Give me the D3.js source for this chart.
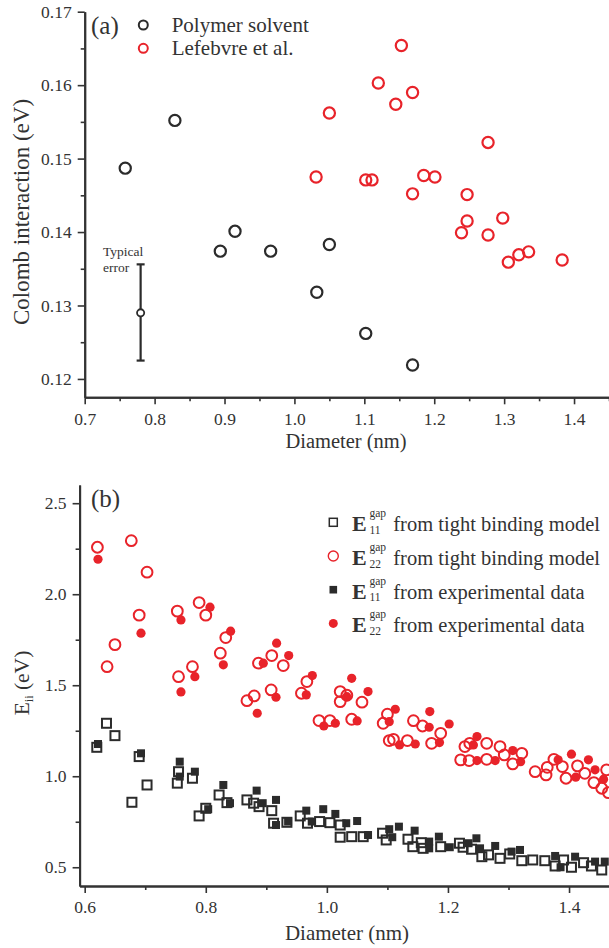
<!DOCTYPE html>
<html>
<head>
<meta charset="utf-8">
<script src="https://cdn.jsdelivr.net/npm/d3@7"></script>
<style>
body { margin: 0; background: #fff; }
text { font-family: "Liberation Serif", serif; fill: #333; }
</style>
</head>
<body>
<svg id="chart" width="609" height="948"></svg>
<script>
// (a) Coulomb interaction vs diameter
var polymerDiam = [0.758, 0.829, 0.894, 0.915, 0.966, 1.050, 1.032, 1.102, 1.169];
var polymerCoul = [0.1487, 0.1552, 0.1374, 0.1401, 0.1374, 0.1383, 0.1318, 0.1262, 0.1219];
var lefebvreDiam = [1.153, 1.120, 1.169, 1.145, 1.050, 1.277, 1.031, 1.102, 1.111, 1.185, 1.201,
                    1.169, 1.247, 1.247, 1.239, 1.298, 1.277, 1.306, 1.321, 1.335, 1.383];
var lefebvreCoul = [0.1654, 0.1603, 0.1590, 0.1574, 0.1562, 0.1522, 0.1475, 0.1471, 0.1471, 0.1477, 0.1475,
                    0.1452, 0.1451, 0.1415, 0.1399, 0.1419, 0.1396, 0.1359, 0.1369, 0.1373, 0.1362];
var errDiam = 0.78, errMid = 0.129, errLow = 0.1225, errHigh = 0.1356;

// (b) transition energies vs diameter
var e11tbDiam = [0.620, 0.636, 0.650, 0.678, 0.690, 0.703, 0.753, 0.755, 0.778, 0.789, 0.800, 0.822, 0.835,
                 0.868, 0.879, 0.888, 0.909, 0.912, 0.934, 0.956, 0.968, 0.988, 1.005, 1.022, 1.022, 1.041,
                 1.060, 1.092, 1.098, 1.134, 1.142, 1.156, 1.159, 1.188, 1.219, 1.225, 1.239, 1.256, 1.267,
                 1.286, 1.302, 1.322, 1.340, 1.360, 1.377, 1.391, 1.404, 1.424, 1.437, 1.454];
var e11tbGap = [1.159, 1.291, 1.223, 0.857, 1.108, 0.952, 0.962, 1.025, 0.989, 0.782, 0.824, 0.897, 0.855,
                0.870, 0.852, 0.833, 0.811, 0.742, 0.747, 0.782, 0.742, 0.751, 0.745, 0.732, 0.665, 0.668,
                0.668, 0.687, 0.650, 0.654, 0.613, 0.635, 0.604, 0.613, 0.632, 0.610, 0.599, 0.558, 0.568,
                0.549, 0.573, 0.536, 0.540, 0.536, 0.507, 0.540, 0.500, 0.525, 0.507, 0.485];
var e22tbDiam = [0.621, 0.677, 0.703, 0.690, 0.650, 0.637, 0.753, 0.789, 0.800, 0.833, 0.824, 0.887, 0.909,
                 0.928, 0.755, 0.778, 0.868, 0.880, 0.908, 0.958, 0.967, 0.987, 1.005, 1.022, 1.022, 1.033,
                 1.058, 1.041, 1.100, 1.093, 1.143, 1.158, 1.188, 1.103, 1.110, 1.133, 1.173, 1.228, 1.236,
                 1.264, 1.286, 1.322, 1.221, 1.235, 1.264, 1.293, 1.307, 1.344, 1.362, 1.364, 1.375, 1.389,
                 1.414, 1.395, 1.426, 1.441, 1.454, 1.465, 1.462];
var e22tbGap = [2.258, 2.294, 2.121, 1.885, 1.723, 1.602, 1.907, 1.954, 1.885, 1.762, 1.676, 1.621, 1.663,
                1.608, 1.547, 1.602, 1.415, 1.441, 1.474, 1.456, 1.520, 1.306, 1.306, 1.465, 1.410, 1.445,
                1.407, 1.313, 1.341, 1.291, 1.305, 1.276, 1.236, 1.196, 1.203, 1.196, 1.181, 1.163, 1.181,
                1.181, 1.163, 1.126, 1.090, 1.086, 1.093, 1.117, 1.068, 1.025, 1.007, 1.049, 1.093, 1.053,
                1.057, 0.989, 1.016, 0.965, 0.934, 0.910, 1.035];
var e11expDiam = [0.622, 0.693, 0.757, 0.757, 0.782, 0.804, 0.829, 0.840, 0.884, 0.894, 0.916, 0.916, 0.936,
                  0.966, 0.975, 0.994, 1.014, 1.032, 1.050, 1.068, 1.103, 1.108, 1.119, 1.145, 1.169, 1.169,
                  1.185, 1.203, 1.234, 1.247, 1.253, 1.278, 1.305, 1.319, 1.377, 1.386, 1.410, 1.443, 1.459];
var e11expGap = [1.177, 1.126, 1.080, 0.998, 1.025, 0.819, 0.952, 0.852, 0.921, 0.852, 0.870, 0.732, 0.751,
                 0.811, 0.751, 0.819, 0.793, 0.742, 0.754, 0.677, 0.709, 0.665, 0.723, 0.701, 0.641, 0.604,
                 0.668, 0.610, 0.632, 0.659, 0.604, 0.617, 0.586, 0.595, 0.562, 0.500, 0.558, 0.531, 0.531];
var e22expDiam = [0.622, 0.693, 0.759, 0.807, 0.841, 0.829, 0.895, 0.917, 0.937, 0.759, 0.782, 0.885, 0.916,
                  0.966, 0.976, 0.995, 1.014, 1.041, 1.033, 1.068, 1.050, 1.113, 1.103, 1.170, 1.169, 1.202,
                  1.120, 1.146, 1.186, 1.248, 1.242, 1.307, 1.248, 1.278, 1.320, 1.382, 1.404, 1.432, 1.411,
                  1.443, 1.457];
var e22expGap = [2.192, 1.786, 1.859, 1.929, 1.797, 1.612, 1.621, 1.731, 1.663, 1.463, 1.547, 1.346, 1.434,
                 1.447, 1.553, 1.276, 1.291, 1.538, 1.437, 1.465, 1.304, 1.368, 1.300, 1.355, 1.269, 1.287,
                 1.172, 1.177, 1.185, 1.218, 1.172, 1.141, 1.086, 1.086, 1.080, 1.090, 1.121, 1.090, 0.995,
                 1.035, 0.984];

var legendA = ["Polymer solvent", "Lefebvre et al."];
var legendB = [
  {sub: "11", txt: "from tight binding model"},
  {sub: "22", txt: "from tight binding model"},
  {sub: "11", txt: "from experimental data"},
  {sub: "22", txt: "from experimental data"}
];

var red = "#e8232a";
var dark = "#2b2b2b";
var svg = d3.select("#chart");

function zip(xs, ys) {
  return xs.map(function(d, i) { return [d, ys[i]]; });
}

// draws left and bottom axes with major + minor ticks
function axes(x, y, xMaj, xMin, yMaj, yMin, yFmt) {
  var h = y.range()[0];
  svg.append("g").attr("transform", "translate(0," + h + ")")
    .call(d3.axisBottom(x).tickValues(xMaj).tickFormat(d3.format(".1f")).tickSize(7).tickSizeOuter(0).tickPadding(8));
  svg.append("g").attr("transform", "translate(0," + h + ")")
    .call(d3.axisBottom(x).tickValues(xMin).tickFormat("").tickSize(4).tickSizeOuter(0));
  var x0 = x.range()[0];
  svg.append("g").attr("transform", "translate(" + x0 + ",0)")
    .call(d3.axisLeft(y).tickValues(yMaj).tickFormat(d3.format(yFmt)).tickSize(7).tickSizeOuter(0).tickPadding(6));
  svg.append("g").attr("transform", "translate(" + x0 + ",0)")
    .call(d3.axisLeft(y).tickValues(yMin).tickFormat("").tickSize(4).tickSizeOuter(0));
  svg.selectAll(".domain").attr("stroke", "#333").attr("stroke-width", 2);
  svg.selectAll(".tick line").attr("stroke", "#333").attr("stroke-width", 1.6);
  svg.selectAll(".tick text").attr("font-family", "Liberation Serif").attr("font-size", 17.5).attr("fill", "#333");
}

// ---------- panel (a) ----------
var xa = d3.scaleLinear().domain([0.7, 1.45]).range([84.7, 609]);
var ya = d3.scaleLinear().domain([0.1175, 0.17]).range([397.3, 11.7]);

axes(xa, ya, d3.range(0.7, 1.41, 0.1), d3.range(0.75, 1.46, 0.1),
     d3.range(0.12, 0.1701, 0.01), d3.range(0.125, 0.17, 0.01), ".2f");

svg.append("g").selectAll("circle").data(zip(polymerDiam, polymerCoul)).enter().append("circle")
  .attr("cx", function(d) { return xa(d[0]); })
  .attr("cy", function(d) { return ya(d[1]); })
  .attr("r", 5.6).attr("fill", "none").attr("stroke", dark).attr("stroke-width", 2.2);

svg.append("g").selectAll("circle").data(zip(lefebvreDiam, lefebvreCoul)).enter().append("circle")
  .attr("cx", function(d) { return xa(d[0]); })
  .attr("cy", function(d) { return ya(d[1]); })
  .attr("r", 5.6).attr("fill", "none").attr("stroke", red).attr("stroke-width", 2.2);

// typical error bar
var eb = svg.append("g").attr("stroke", dark).attr("stroke-width", 2.2);
eb.append("line").attr("x1", xa(errDiam)).attr("x2", xa(errDiam)).attr("y1", ya(errHigh)).attr("y2", ya(errLow));
eb.append("line").attr("x1", xa(errDiam) - 4).attr("x2", xa(errDiam) + 4).attr("y1", ya(errHigh)).attr("y2", ya(errHigh));
eb.append("line").attr("x1", xa(errDiam) - 4).attr("x2", xa(errDiam) + 4).attr("y1", ya(errLow)).attr("y2", ya(errLow));
eb.append("circle").attr("cx", xa(errDiam)).attr("cy", ya(errMid)).attr("r", 3.6).attr("fill", "#fff").attr("stroke-width", 1.8);
svg.append("text").attr("x", 103).attr("y", 255.5).attr("font-size", 13.5).text("Typical");
svg.append("text").attr("x", 103).attr("y", 271.5).attr("font-size", 13.5).text("error");

svg.append("text").attr("x", 91).attr("y", 34).attr("font-size", 25).text("(a)");
legendA.forEach(function(t, i) {
  var cy = 25 + i * 23.3;
  svg.append("circle").attr("cx", 143.3).attr("cy", cy).attr("r", 4.5)
    .attr("fill", "none").attr("stroke", i === 0 ? dark : red).attr("stroke-width", 2);
  svg.append("text").attr("x", 171.7).attr("y", cy + 6.5).attr("font-size", 21).text(t);
});

svg.append("text").attr("x", 346).attr("y", 448).attr("text-anchor", "middle").attr("font-size", 20.5)
  .text("Diameter (nm)");
svg.append("text").attr("transform", "translate(29,212) rotate(-90)").attr("text-anchor", "middle")
  .attr("font-size", 23).text("Colomb interaction (eV)");

// ---------- panel (b) ----------
var xb = d3.scaleLinear().domain([0.5916, 1.466]).range([79.6, 609]);
var yb = d3.scaleLinear().domain([0.397, 2.6]).range([886, 485]);

axes(xb, yb, [0.6, 0.8, 1.0, 1.2, 1.4], [0.7, 0.9, 1.1, 1.3], [0.5, 1.0, 1.5, 2.0, 2.5], [0.75, 1.25, 1.75, 2.25], ".1f");

svg.append("g").selectAll("rect").data(zip(e11tbDiam, e11tbGap)).enter().append("rect")
  .attr("x", function(d) { return xb(d[0]) - 4.5; })
  .attr("y", function(d) { return yb(d[1]) - 4.5; })
  .attr("width", 9).attr("height", 9).attr("fill", "none").attr("stroke", dark).attr("stroke-width", 2);

svg.append("g").selectAll("circle").data(zip(e22tbDiam, e22tbGap)).enter().append("circle")
  .attr("cx", function(d) { return xb(d[0]); })
  .attr("cy", function(d) { return yb(d[1]); })
  .attr("r", 5.4).attr("fill", "none").attr("stroke", red).attr("stroke-width", 2);

svg.append("g").selectAll("rect").data(zip(e11expDiam, e11expGap)).enter().append("rect")
  .attr("x", function(d) { return xb(d[0]) - 4; })
  .attr("y", function(d) { return yb(d[1]) - 4; })
  .attr("width", 8).attr("height", 8).attr("fill", dark);

svg.append("g").selectAll("circle").data(zip(e22expDiam, e22expGap)).enter().append("circle")
  .attr("cx", function(d) { return xb(d[0]); })
  .attr("cy", function(d) { return yb(d[1]); })
  .attr("r", 4.6).attr("fill", red);

svg.append("text").attr("x", 91).attr("y", 507).attr("font-size", 25).text("(b)");

legendB.forEach(function(d, i) {
  var cy = 522.3 + i * 33.7;
  var lx = 333.3;
  if (i === 0) svg.append("rect").attr("x", lx - 4).attr("y", cy - 4).attr("width", 8).attr("height", 8)
    .attr("fill", "none").attr("stroke", dark).attr("stroke-width", 1.5);
  if (i === 1) svg.append("circle").attr("cx", lx).attr("cy", cy).attr("r", 5)
    .attr("fill", "none").attr("stroke", red).attr("stroke-width", 1.4);
  if (i === 2) svg.append("rect").attr("x", lx - 3.8).attr("y", cy - 3.8).attr("width", 7.6).attr("height", 7.6)
    .attr("fill", dark);
  if (i === 3) svg.append("circle").attr("cx", lx).attr("cy", cy).attr("r", 4.5).attr("fill", red);
  svg.append("text").attr("x", 352).attr("y", cy + 9).attr("font-size", 22).attr("font-weight", "bold").text("E");
  svg.append("text").attr("x", 369.5).attr("y", cy - 5).attr("font-size", 11.5).text("gap");
  svg.append("text").attr("x", 369.5).attr("y", cy + 11.5).attr("font-size", 11.5).text(d.sub);
  svg.append("text").attr("x", 393.3).attr("y", cy + 9).attr("font-size", 20.5).text(d.txt);
});

svg.append("text").attr("x", 347).attr("y", 940).attr("text-anchor", "middle").attr("font-size", 21)
  .text("Diameter (nm)");
var ylab = svg.append("text").attr("transform", "translate(29,683) rotate(-90)").attr("text-anchor", "middle")
  .attr("font-size", 21.5);
ylab.append("tspan").text("E");
ylab.append("tspan").attr("font-size", 12).attr("dy", 4).text("ii");
ylab.append("tspan").attr("dy", -4).text(" (eV)");
</script>
</body>
</html>
